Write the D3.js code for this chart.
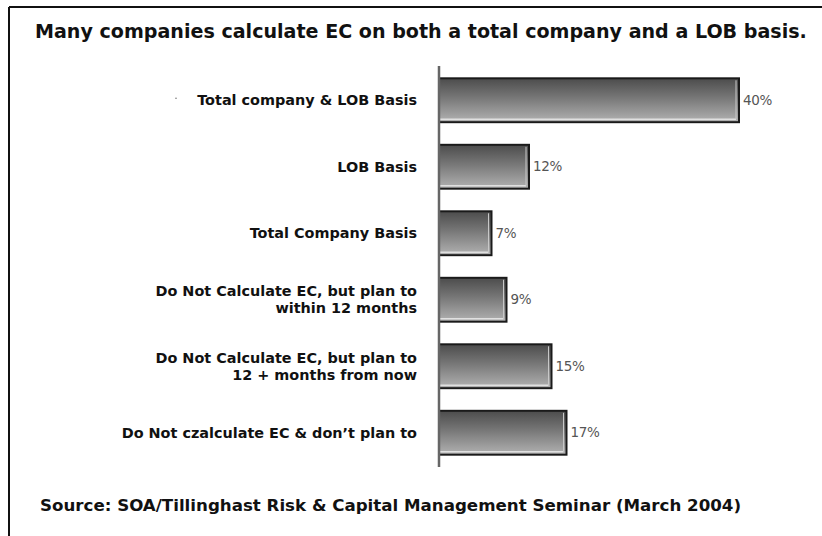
<!DOCTYPE html>
<html>
<head>
<meta charset="utf-8">
<script src="https://cdn.jsdelivr.net/npm/d3@7"></script>
<style>
  html, body { margin: 0; padding: 0; background: #fff; }
  svg { display: block; }
</style>
</head>
<body>
<svg id="chart" width="822" height="536"></svg>
<script>
const categories = [
  ["Total company & LOB Basis"],
  ["LOB Basis"],
  ["Total Company Basis"],
  ["Do Not Calculate EC, but plan to", "within 12 months"],
  ["Do Not Calculate EC, but plan to", "12 + months from now"],
  ["Do Not czalculate EC & don\u2019t plan to"]
];
const values = [40, 12, 7, 9, 15, 17];
const valueLabels = ["40%", "12%", "7%", "9%", "15%", "17%"];
const title = "Many companies calculate EC on both a total company and a LOB basis.";
const source = "Source: SOA/Tillinghast Risk & Capital Management Seminar (March 2004)";

const svg = d3.select("#chart");
const W = 822, H = 536;
const font = "'DejaVu Sans', 'Noto Sans', sans-serif";

// fit a text element's font size to a target width
function fitWidth(sel, target) {
  const node = sel.node();
  const fs = parseFloat(sel.attr("font-size"));
  const w = node.getComputedTextLength();
  if (w > 0) sel.attr("font-size", (fs * target / w).toFixed(2));
}

// gradient
const defs = svg.append("defs");
const grad = defs.append("linearGradient").attr("id", "barGrad")
  .attr("x1", 0).attr("y1", 0).attr("x2", 0).attr("y2", 1);
grad.append("stop").attr("offset", "0%").attr("stop-color", "#4c4c4c");
grad.append("stop").attr("offset", "45%").attr("stop-color", "#787878");
grad.append("stop").attr("offset", "100%").attr("stop-color", "#b2b2b2");

// frame (top and left lines)
svg.append("line").attr("x1", 9).attr("x2", W).attr("y1", 7).attr("y2", 7)
  .attr("stroke", "#111").attr("stroke-width", 2);
svg.append("line").attr("x1", 9).attr("x2", 9).attr("y1", 7).attr("y2", H)
  .attr("stroke", "#111").attr("stroke-width", 2);

// title
const tt = svg.append("text").attr("x", 35).attr("y", 38)
  .attr("font-family", font).attr("font-weight", 700).attr("font-size", 16.5)
  .attr("fill", "#111").text(title);
fitWidth(tt, 772);

const x0 = 439;
const x = d3.scaleLinear().domain([0, 40]).range([x0, x0 + 300]);
const y = d3.scaleBand().domain(d3.range(categories.length))
  .range([67, 466]).paddingInner(0.34).paddingOuter(0.17);

const g = svg.append("g");

// bars
g.selectAll("rect.bar").data(values).join("rect")
  .attr("class", "bar")
  .attr("x", x(0))
  .attr("y", (d, i) => y(i))
  .attr("width", d => x(d) - x(0))
  .attr("height", y.bandwidth())
  .attr("fill", "url(#barGrad)")
  .attr("stroke", "#1a1a1a").attr("stroke-width", 2);

// light inner highlight near bottom / right
g.selectAll("line.hl").data(values).join("line")
  .attr("class", "hl")
  .attr("x1", x(0) + 1).attr("x2", d => x(d) - 3)
  .attr("y1", (d, i) => y(i) + y.bandwidth() - 3)
  .attr("y2", (d, i) => y(i) + y.bandwidth() - 3)
  .attr("stroke", "#e0e0e0").attr("stroke-width", 1.5);
g.selectAll("line.hr").data(values).join("line")
  .attr("class", "hr")
  .attr("x1", d => x(d) - 3).attr("x2", d => x(d) - 3)
  .attr("y1", (d, i) => y(i) + 2)
  .attr("y2", (d, i) => y(i) + y.bandwidth() - 3)
  .attr("stroke", "#c8c8c8").attr("stroke-width", 1);

// axis line
svg.append("line").attr("x1", x0).attr("x2", x0).attr("y1", 66).attr("y2", 467)
  .attr("stroke", "#666").attr("stroke-width", 2.5);

// value labels
g.selectAll("text.val").data(values).join("text")
  .attr("class", "val")
  .attr("x", d => x(d) + 4)
  .attr("y", (d, i) => y(i) + y.bandwidth() / 2)
  .attr("dy", "0.35em")
  .attr("font-family", "'DejaVu Sans', sans-serif")
  .attr("font-size", 13.5)
  .attr("letter-spacing", -0.3)
  .attr("fill", "#555")
  .text((d, i) => valueLabels[i]);

// category labels
const lineH = 17;
const cl = g.selectAll("text.cat").data(categories).join("text")
  .attr("class", "cat")
  .attr("text-anchor", "end")
  .attr("font-family", font).attr("font-weight", 700).attr("font-size", 13)
  .attr("fill", "#111");
cl.each(function(lines, i) {
  const t = d3.select(this);
  const cy = y(i) + y.bandwidth() / 2;
  const start = cy - (lines.length - 1) * lineH / 2;
  lines.forEach((ln, k) => {
    t.append("tspan").attr("x", 417).attr("y", start + k * lineH)
      .attr("dy", "0.35em").text(ln);
  });
});
// fit category font size using the first label's width
{
  const first = cl.filter((d, i) => i === 0);
  const w = first.node().getComputedTextLength();
  if (w > 0) cl.attr("font-size", (13 * 220 / w).toFixed(2));
}

// small stray dot near first label
svg.append("circle").attr("cx", 176).attr("cy", y(0) + y.bandwidth() / 2 - 2)
  .attr("r", 0.8).attr("fill", "#777");

// source
const st = svg.append("text").attr("x", 40).attr("y", 511)
  .attr("font-family", font).attr("font-weight", 700).attr("font-size", 14)
  .attr("fill", "#111").text(source);
fitWidth(st, 701);
</script>
</body>
</html>
